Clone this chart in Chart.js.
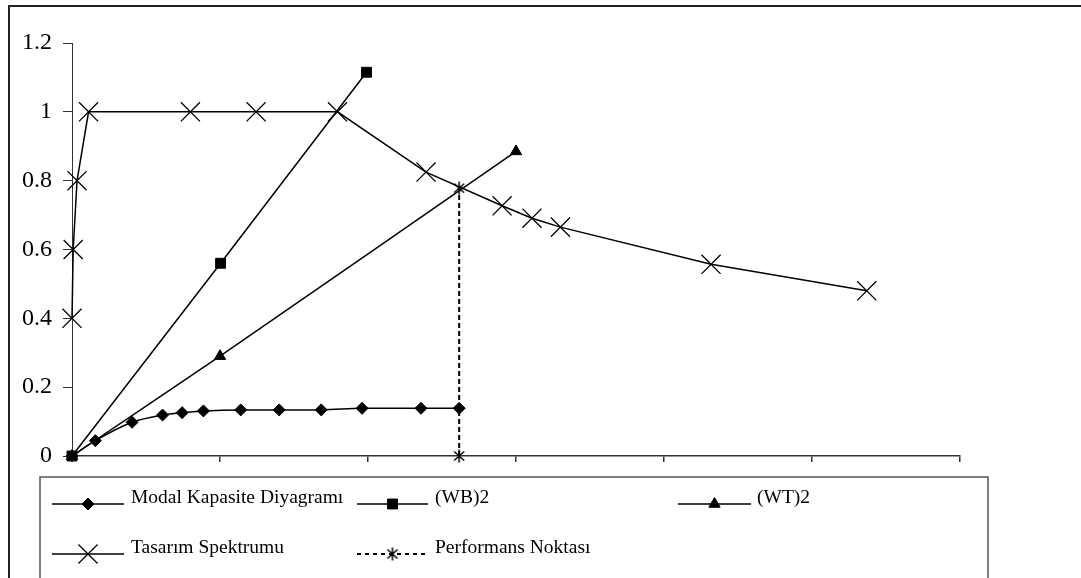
<!DOCTYPE html>
<html>
<head>
<meta charset="utf-8">
<script src="https://cdn.jsdelivr.net/npm/chart.js@4.4.0/dist/chart.umd.min.js"></script>
<style>
  html, body { margin: 0; padding: 0; background: #fff; }
  #kutu { position: relative; width: 1081px; height: 578px; }
</style>
</head>
<body>
<div id="kutu"><canvas id="grafik"></canvas></div>
<script>
// Spektral yerdeğiştirme (x) - spektral ivme (y) verileri
const modalX = [0, 0.0079, 0.0203, 0.0306, 0.0372, 0.0444, 0.0570, 0.0700, 0.0842, 0.0980, 0.1179, 0.1308];
const modalY = [0, 0.0445, 0.098, 0.119, 0.126, 0.131, 0.134, 0.134, 0.134, 0.1386, 0.1386, 0.1386];

const wbX = [0, 0.0502, 0.0995];
const wbY = [0, 0.560, 1.115];

const wtX = [0, 0.0500, 0.1500];
const wtY = [0, 0.290, 0.885];

const spektrumX = [0, 0.0004, 0.0017, 0.0056, 0.0400, 0.0622, 0.0897, 0.1196, 0.1453, 0.1554, 0.1650, 0.2159, 0.2685];
const spektrumY = [0.4, 0.6, 0.8, 1.0, 1.0, 1.0, 1.0, 0.825, 0.727, 0.691, 0.665, 0.557, 0.480];

const performansX = [0.1308, 0.1308];
const performansY = [0, 0.778];

const seriAdlari = ['Modal Kapasite Diyagramı', '(WB)2', '(WT)2', 'Tasarım Spektrumu', 'Performans Noktası'];

const xTikler = [0, 0.05, 0.10, 0.15, 0.20, 0.25, 0.30];
const yTikler = [0, 0.2, 0.4, 0.6, 0.8, 1.0, 1.2];

const FONT = "'Liberation Serif', 'Times New Roman', serif";

function noktalar(xs, ys) {
    return xs.map((x, i) => ({ x: x, y: ys[i] }));
}

// yıldız işareti (dikey çizgi + çarpı)
function yildizIsareti() {
    const c = document.createElement('canvas');
    c.width = 14; c.height = 14;
    const g = c.getContext('2d');
    g.strokeStyle = '#000';
    g.lineWidth = 1.5;
    g.beginPath();
    g.moveTo(7, 0.5); g.lineTo(7, 13.5);
    g.moveTo(2, 2.5); g.lineTo(12, 11.5);
    g.moveTo(12, 2.5); g.lineTo(2, 11.5);
    g.stroke();
    return c;
}
const yildiz = yildizIsareti();

function seri(ad, xs, ys, ek) {
    return Object.assign({
        label: ad,
        data: noktalar(xs, ys),
        borderColor: '#000',
        backgroundColor: '#000',
        pointBackgroundColor: '#000',
        pointBorderColor: '#000',
        borderWidth: 1.5,
        pointBorderWidth: 1,
        clip: false,
        showLine: true
    }, ek);
}

const veriSetleri = [
    seri(seriAdlari[0], modalX, modalY, { pointStyle: 'rectRot', pointRadius: 6, cubicInterpolationMode: 'monotone' }),
    seri(seriAdlari[1], wbX, wbY, { pointStyle: 'rect', pointRadius: 7 }),
    seri(seriAdlari[2], wtX, wtY, { pointStyle: 'triangle', pointRadius: 6.5, tension: 0.3 }),
    seri(seriAdlari[3], spektrumX, spektrumY, { pointStyle: 'crossRot', pointRadius: 13.5, pointBorderWidth: 1.3 }),
    seri(seriAdlari[4], performansX, performansY, { pointStyle: yildiz, pointRadius: 6, borderWidth: 2, borderDash: [5, 3] })
];

// Alt kısımdaki lejant kutusu
const lejantYerleri = [
    { x1: 52, x2: 124, y: 504, tx: 131 },
    { x1: 357, x2: 428, y: 504, tx: 435 },
    { x1: 678, x2: 751, y: 504, tx: 757 },
    { x1: 52, x2: 124, y: 554, tx: 131 },
    { x1: 357, x2: 428, y: 554, tx: 435 }
];

const cerceveEklentisi = {
    id: 'cerceve',
    beforeDraw(chart) {
        const ctx = chart.ctx;
        ctx.save();
        ctx.strokeStyle = '#222';
        ctx.lineWidth = 2;
        ctx.beginPath();
        ctx.moveTo(9, 600);
        ctx.lineTo(9, 6);
        ctx.lineTo(1100, 6);
        ctx.stroke();
        ctx.restore();
    },
    afterDraw(chart) {
        const ctx = chart.ctx;
        ctx.save();
        ctx.strokeStyle = '#555';
        ctx.lineWidth = 1.5;
        ctx.strokeRect(40, 477, 948, 200);

        ctx.font = '19.5px ' + FONT;
        ctx.textBaseline = 'alphabetic';
        ctx.textAlign = 'left';
        chart.data.datasets.forEach((ds, i) => {
            const p = lejantYerleri[i];
            ctx.strokeStyle = '#000';
            ctx.fillStyle = '#000';
            ctx.lineWidth = ds.borderWidth;
            ctx.setLineDash(ds.borderDash ? [4, 4] : []);
            ctx.beginPath();
            ctx.moveTo(p.x1, p.y);
            ctx.lineTo(p.x2, p.y);
            ctx.stroke();
            ctx.setLineDash([]);
            ctx.lineWidth = ds.pointBorderWidth;
            Chart.helpers.drawPoint(ctx, {
                pointStyle: ds.pointStyle,
                radius: ds.pointRadius,
                rotation: 0,
                borderWidth: ds.pointBorderWidth
            }, (p.x1 + p.x2) / 2, p.y);
            ctx.fillStyle = '#000';
            ctx.fillText(ds.label, p.tx, p.y - 1);
        });
        ctx.restore();
    }
};

new Chart(document.getElementById('grafik'), {
    type: 'scatter',
    data: { datasets: veriSetleri },
    options: {
        responsive: true,
        maintainAspectRatio: false,
        animation: false,
        layout: { padding: { top: 43, right: 121, left: 0, bottom: 0 } },
        plugins: {
            legend: { display: false },
            tooltip: { enabled: false }
        },
        scales: {
            x: {
                type: 'linear',
                min: 0,
                max: 0.3,
                afterBuildTicks: s => { s.ticks = xTikler.map(v => ({ value: v })); },
                afterFit: s => { s.height = 122; },
                ticks: { display: false },
                grid: { drawOnChartArea: false, drawTicks: true, tickLength: 6, color: '#333', lineWidth: 1.5 },
                border: { color: '#333', width: 1.5 }
            },
            y: {
                type: 'linear',
                min: 0,
                max: 1.2,
                afterBuildTicks: s => { s.ticks = yTikler.map(v => ({ value: v })); },
                afterFit: s => { s.width = 72; },
                ticks: {
                    color: '#000',
                    padding: 11,
                    font: { family: FONT, size: 24 },
                    callback: v => String(Math.round(v * 10) / 10)
                },
                grid: { drawOnChartArea: false, drawTicks: true, tickLength: 9, color: '#333', lineWidth: 1 },
                border: { color: '#333', width: 1 }
            }
        }
    },
    plugins: [cerceveEklentisi]
});
</script>
</body>
</html>
